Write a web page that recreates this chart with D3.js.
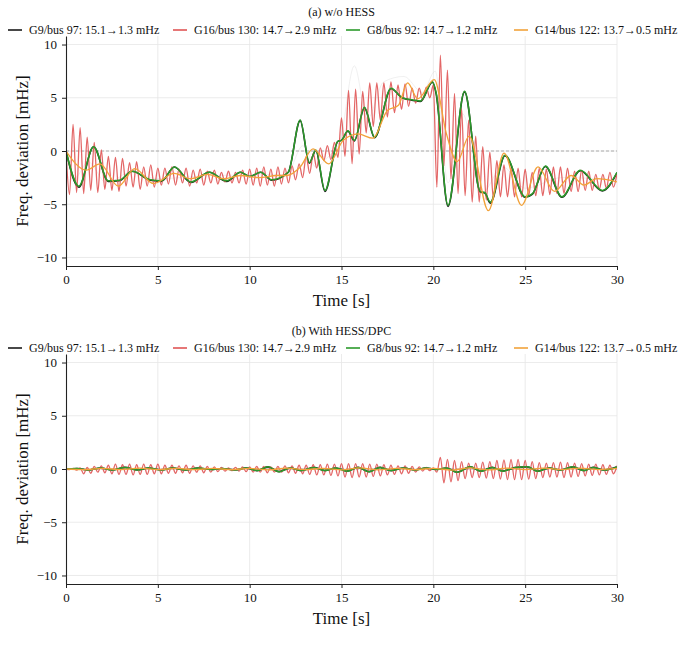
<!DOCTYPE html>
<html><head><meta charset="utf-8">
<script src="https://cdn.jsdelivr.net/npm/d3@7"></script>
<style>
body{margin:0;background:#fff}
svg{display:block}
text{font-family:"Liberation Serif","Times New Roman",serif;fill:#111}
</style>
</head><body><svg id="c" width="683" height="661"></svg>
<script>
// ---------------- DATA ----------------
const timeTicks = [0, 5, 10, 15, 20, 25, 30];
const freqTicks = [-10, -5, 0, 5, 10];
const seriesNames = ["G9/bus 97: 15.1\u21921.3 mHz", "G16/bus 130: 14.7\u21922.9 mHz", "G8/bus 92: 14.7\u21921.2 mHz", "G14/bus 122: 13.7\u21920.5 mHz"];
const panelTitles = ["(a) w/o HESS", "(b) With HESS/DPC"];

// G16 (red) oscillation extremes, sampled every half period (s)
const RED_DT = 0.1923;
const redA = [
  0, -4.1, 2.5, -3.9, 2.2, -4.0, 1.3, -3.7, 0.8, -3.9,
  0.1, -3.6, -0.5, -3.7, -0.6, -3.8, -0.7, -3.3, -1.1, -3.4,
  -1.0, -3.6, -1.5, -3.3, -1.3, -3.4, -1.6, -3.2, -1.6, -3.1,
  -1.5, -3.2, -1.7, -3.0, -1.6, -3.3, -1.8, -3.0, -1.7, -3.2,
  -1.9, -3.0, -1.8, -3.1, -2.0, -2.9, -1.9, -3.0, -2.0, -3.0,
  -1.8, -3.1, -1.7, -3.2, -1.6, -3.3, -1.5, -3.2, -1.7, -3.3,
  -1.5, -3.1, -1.6, -3.0, -1.4, -2.7, -1.2, -2.5, -0.5, -2.1,
  -0.2, -1.6, 0.3, -0.9, 0.5, -0.8, 0.8, -0.6, 3.1, -0.5,
  5.7, -1.2, 5.8, -0.3, 5.6, 1.7, 6.4, 2.3, 6.4, 2.9,
  6.4, 3.2, 6.5, 3.6, 6.2, 3.9, 6.3, 4.2, 5.9, 4.5,
  5.9, 4.8, 6.0, 5.0, 6.2, -3.4, 9.0, -1.4, 7.6, -2.6,
  5.4, -4.0, 4.0, -4.2, 2.9, -4.8, 1.4, -4.8, 0.4, -4.6,
  -0.1, -4.5, -0.9, -4.3, -1.3, -4.3, -1.6, -4.3, -1.6, -4.3,
  -1.7, -4.2, -2.0, -4.2, -1.6, -4.2, -1.7, -4.1, -1.5, -4.0,
  -1.5, -4.0, -1.6, -3.8, -1.9, -3.8, -1.8, -3.7, -1.9, -3.7,
  -2.2, -3.6, -2.2, -3.5, -2.0, -3.4, -2.1
];
const redB = [
  0, -0.05, 0.05, -0.1, 0.1, -0.45, 0.15, -0.4, 0.25, -0.3,
  0.3, -0.35, 0.35, -0.45, 0.45, -0.5, 0.4, -0.5, 0.45, -0.55,
  0.4, -0.5, 0.45, -0.5, 0.4, -0.45, 0.45, -0.45, 0.35, -0.4,
  0.35, -0.4, 0.3, -0.35, 0.35, -0.4, 0.3, -0.3, 0.3, -0.35,
  0.25, -0.3, 0.2, -0.25, 0.15, -0.2, 0.1, -0.15, 0.15, -0.2,
  0.2, -0.25, 0.2, -0.3, 0.25, -0.3, 0.25, -0.35, 0.2, -0.3,
  0.25, -0.3, 0.3, -0.35, 0.3, -0.4, 0.35, -0.45, 0.35, -0.5,
  0.4, -0.55, 0.4, -0.55, 0.45, -0.6, 0.45, -0.65, 0.5, -0.75,
  0.5, -0.8, 0.5, -0.75, 0.5, -0.75, 0.45, -0.7, 0.45, -0.65,
  0.4, -0.55, 0.35, -0.5, 0.3, -0.45, 0.3, -0.4, 0.25, -0.3,
  0.2, -0.2, 0.15, -0.15, 0.1, -0.3, 1.1, -1.3, 0.9, -1.2,
  0.8, -1.1, 0.7, -0.9, 0.55, -0.8, 0.55, -0.8, 0.65, -0.85,
  0.7, -0.9, 0.8, -0.95, 0.85, -1.0, 0.9, -1.0, 0.9, -1.0,
  0.8, -0.95, 0.7, -0.9, 0.6, -0.8, 0.55, -0.75, 0.6, -0.75,
  0.65, -0.8, 0.6, -0.75, 0.55, -0.7, 0.5, -0.65, 0.45, -0.6,
  0.45, -0.55, 0.4, -0.5, 0.35, -0.45, 0.3
];

// [time s, deviation mHz]
const greenA = [[0,0],[0.7,-3.3],[1.5,0.4],[2.3,-2.8],[2.9,-2.75],[3.6,-1.9],[4.6,-2.7],[5.2,-2.8],[5.9,-1.5],[6.8,-2.9],[7.8,-2.0],[8.75,-2.8],[9.5,-2.0],[10.0,-2.4],[10.6,-2.0],[11.2,-2.7],[12.1,-2.0],[12.75,2.9],[13.25,-1.1],[13.6,0.1],[14.1,-3.7],[14.8,0.9],[15.0,1.0],[15.35,1.9],[15.7,1.0],[16.25,4.1],[16.8,1.3],[17.7,5.9],[18.3,5.0],[18.9,4.8],[19.3,4.7],[19.95,6.5],[20.15,5.5],[20.8,-5.1],[21.7,5.6],[22.55,-3.8],[22.8,-3.9],[23.1,-4.8],[23.9,-0.4],[25.0,-4.3],[25.4,-4.0],[26.1,-1.4],[27.0,-4.3],[28.0,-1.8],[29.2,-3.7],[30,-2.0]];
const blackA = [[0,0],[0.7,-3.4],[1.5,0.4],[2.3,-2.85],[2.9,-2.8],[3.6,-1.9],[4.6,-2.75],[5.2,-2.85],[5.9,-1.5],[6.8,-2.95],[7.8,-2.0],[8.75,-2.85],[9.5,-2.0],[10.0,-2.4],[10.6,-2.0],[11.2,-2.75],[12.1,-2.0],[12.75,2.85],[13.25,-1.15],[13.6,0.05],[14.1,-3.8],[14.8,0.9],[15.0,1.0],[15.35,1.85],[15.7,0.95],[16.25,4.05],[16.8,1.25],[17.7,5.85],[18.3,5.0],[18.9,4.75],[19.3,4.65],[19.95,6.45],[20.15,5.4],[20.8,-5.2],[21.7,5.55],[22.55,-3.85],[22.8,-3.95],[23.1,-4.9],[23.9,-0.45],[25.0,-4.35],[25.4,-4.05],[26.1,-1.45],[27.0,-4.35],[28.0,-1.85],[29.2,-3.75],[30,-2.05]];
const orangeA = [[0,0],[1.1,-1.8],[1.85,-1.2],[2.85,-3.3],[3.75,-1.65],[4.75,-3.05],[5.9,-2.1],[6.75,-2.6],[7.7,-2.2],[8.6,-2.6],[9.5,-2.3],[10.5,-2.5],[11.5,-2.3],[12.0,-2.3],[12.75,-1.5],[13.45,0.2],[14.3,-1.2],[15.1,1.0],[15.9,1.6],[16.7,1.2],[17.5,3.8],[18.1,4.3],[18.6,6.4],[19.15,4.9],[20.05,6.7],[20.7,1.7],[21.3,-1.0],[21.95,1.4],[23.0,-5.6],[23.85,-0.2],[24.8,-5.1],[25.7,-1.5],[26.6,-3.8],[27.5,-2.3],[28.2,-3.2],[28.9,-2.6],[30,-2.9]];
const otherA = [[0,0],[0.5,-2.5],[1.2,-1.0],[2.2,-3.0],[3.5,-2.0],[5,-2.6],[8,-2.3],[12,-2.2],[12.9,0.5],[13.6,-1.5],[14.3,-0.5],[14.9,0.8],[15.7,8.0],[16.4,3.0],[17.3,6.5],[18.4,7.0],[19.4,5.5],[20.1,7.5],[20.8,-3.0],[21.6,3.5],[22.6,-4.0],[23.8,-1.5],[25,-3.5],[27,-2.5],[30,-2.7]];

const greenB = [[0,0],[0.6,0.05],[1.2,-0.1],[1.9,0.1],[2.5,-0.1],[3.2,0.15],[3.9,-0.1],[4.5,0.1],[5.2,-0.1],[5.8,0.1],[6.5,-0.1],[7.2,0.1],[7.9,-0.05],[8.5,0.05],[9.2,-0.1],[9.8,0.1],[10.4,-0.15],[11.0,0.2],[11.6,-0.25],[12.2,0.1],[12.8,-0.15],[13.5,0.15],[14.1,-0.15],[14.7,0.1],[15.3,-0.2],[15.9,0.15],[16.5,-0.25],[17.1,0.15],[17.7,-0.15],[18.4,0.1],[19.0,-0.1],[19.6,0.1],[20.2,-0.05],[20.7,0.1],[21.3,-0.3],[22.0,0.2],[22.6,-0.2],[23.2,0.15],[23.8,-0.2],[24.5,0.15],[25.1,0.2],[25.7,-0.2],[26.3,0.1],[26.9,-0.1],[27.6,0.2],[28.2,-0.15],[28.7,0.15],[29.3,-0.1],[30,0.2]];
const blackB = [[0,0],[0.6,0.05],[1.2,-0.1],[1.9,0.1],[2.5,-0.1],[3.2,0.15],[3.9,-0.1],[4.5,0.1],[5.2,-0.1],[5.8,0.1],[6.5,-0.1],[7.2,0.1],[7.9,-0.05],[8.5,0.05],[9.2,-0.1],[9.8,0.1],[10.4,-0.15],[11.0,0.2],[11.6,-0.25],[12.2,0.1],[12.8,-0.15],[13.5,0.15],[14.1,-0.15],[14.7,0.1],[15.3,-0.2],[15.9,0.15],[16.5,-0.25],[17.1,0.15],[17.7,-0.15],[18.4,0.1],[19.0,-0.1],[19.6,0.1],[20.2,-0.05],[20.7,0.1],[21.3,-0.3],[22.0,0.2],[22.6,-0.2],[23.2,0.15],[23.8,-0.2],[24.5,0.15],[25.1,0.2],[25.7,-0.2],[26.3,0.1],[26.9,-0.1],[27.6,0.2],[28.2,-0.15],[28.7,0.15],[29.3,-0.1],[30,0.2]];
const orangeB = [[0,0],[1.0,-0.05],[2.0,0.05],[3.0,-0.05],[4.0,0.08],[5.0,-0.05],[6.0,0.05],[7.0,-0.05],[8.0,0.05],[9.0,-0.05],[10.0,0.05],[11.0,-0.08],[12.0,0.08],[13.0,-0.05],[14.0,0.05],[15.0,-0.08],[16.0,0.1],[17.0,-0.08],[18.0,0.05],[19.0,-0.05],[20.0,0.05],[21.0,-0.1],[22.0,0.1],[23.0,-0.08],[24.0,0.08],[25.0,-0.05],[26.0,0.08],[27.0,-0.05],[28.0,0.08],[29.0,-0.05],[30,0.05]];

// --------------- DRAWING ---------------
const colors = {black:"#1a1a1a", red:"#e05555", green:"#2b9a2b", orange:"#f2a23a"};
const svg = d3.select("#c");
const x = d3.scaleLinear().domain([0,30]).range([66,617]);
const fmt = d => d < 0 ? "\u2212" + Math.abs(d) : String(d);

const panels = [
  {title:panelTitles[0], yr:[266,36], titleY:16, legY:30, red:redA, green:greenA, black:blackA, orange:orangeA, other:otherA},
  {title:panelTitles[1], yr:[584,354], titleY:335, legY:348, red:redB, green:greenB, black:blackB, orange:orangeB, other:null}
];

const legendLineX = [8, 173, 346, 514];
const legendColors = [colors.black, colors.red, colors.green, colors.orange];

panels.forEach((p, pi) => {
  const y = d3.scaleLinear().domain([-10.8,10.8]).range(p.yr);
  const g = svg.append("g");
  const clipId = "clip"+pi;
  svg.append("clipPath").attr("id", clipId).append("rect")
    .attr("x", x(0)).attr("y", p.yr[1]).attr("width", x(30)-x(0)).attr("height", p.yr[0]-p.yr[1]);

  // grid
  g.append("g").selectAll("line").data(timeTicks.slice(1)).join("line")
    .attr("x1", d=>x(d)).attr("x2", d=>x(d)).attr("y1", p.yr[1]).attr("y2", p.yr[0])
    .attr("stroke", "#e6e6e6").attr("stroke-width", 0.8);
  g.append("g").selectAll("line").data(freqTicks).join("line")
    .attr("x1", x(0)).attr("x2", x(30)).attr("y1", d=>y(d)).attr("y2", d=>y(d))
    .attr("stroke", "#e6e6e6").attr("stroke-width", 0.8);
  g.append("line").attr("x1", x(0)).attr("x2", x(30)).attr("y1", y(0)).attr("y2", y(0))
    .attr("stroke", "#9a9a9a").attr("stroke-width", 0.8).attr("stroke-dasharray", "3,2");

  const line = d3.line().x(d=>x(d[0])).y(d=>y(d[1])).curve(d3.curveMonotoneX);
  const lines = g.append("g").attr("clip-path", `url(#${clipId})`);
  if (p.other) lines.append("path").datum(p.other).attr("d", line).attr("fill","none")
    .attr("stroke","#cccccc").attr("stroke-opacity",0.3).attr("stroke-width",1);
  lines.append("path").datum(p.black).attr("d", line).attr("fill","none")
    .attr("stroke",colors.black).attr("stroke-width",1.6);
  lines.append("path").datum(p.red.map((v,i)=>[i*RED_DT, v])).attr("d", line).attr("fill","none")
    .attr("stroke",colors.red).attr("stroke-opacity",0.9).attr("stroke-width",1.3);
  lines.append("path").datum(p.green).attr("d", line).attr("fill","none")
    .attr("stroke",colors.green).attr("stroke-width",1.5);
  lines.append("path").datum(p.orange).attr("d", line).attr("fill","none")
    .attr("stroke",colors.orange).attr("stroke-width",1.3);

  // axes
  const xa = g.append("g").attr("transform", `translate(0,${p.yr[0]})`)
    .call(d3.axisBottom(x).tickValues(timeTicks).tickSize(4).tickPadding(5).tickSizeOuter(0).tickFormat(d3.format("d")));
  const ya = g.append("g").attr("transform", `translate(${x(0)},0)`)
    .call(d3.axisLeft(y).tickValues(freqTicks).tickSize(4).tickPadding(5).tickSizeOuter(0).tickFormat(fmt));
  [xa, ya].forEach(a => {
    a.select(".domain").attr("stroke","#222").attr("stroke-width",1.1);
    a.selectAll(".tick line").attr("stroke","#222");
    a.selectAll(".tick text").attr("font-size",13).attr("font-family",'"Liberation Serif",serif').attr("fill","#111");
  });

  g.append("text").attr("x", (x(0)+x(30))/2).attr("y", p.yr[0]+40).attr("text-anchor","middle")
    .attr("font-size",17).text("Time [s]");
  g.append("text").attr("transform", `translate(22,${y(0)}) rotate(-90)`).attr("text-anchor","middle")
    .attr("dy","0.35em").attr("font-size",17).text("Freq. deviation [mHz]");

  // title and legend
  g.append("text").attr("x", (x(0)+x(30))/2).attr("y", p.titleY).attr("text-anchor","middle")
    .attr("font-size",12).text(p.title);
  seriesNames.forEach((name, k) => {
    g.append("line").attr("x1", legendLineX[k]).attr("x2", legendLineX[k]+14)
      .attr("y1", p.legY).attr("y2", p.legY).attr("stroke", legendColors[k]).attr("stroke-width",1.6);
    g.append("text").attr("x", legendLineX[k]+21).attr("y", p.legY).attr("dy","0.35em")
      .attr("font-size",12).text(name);
  });
});
</script>
</body></html>
